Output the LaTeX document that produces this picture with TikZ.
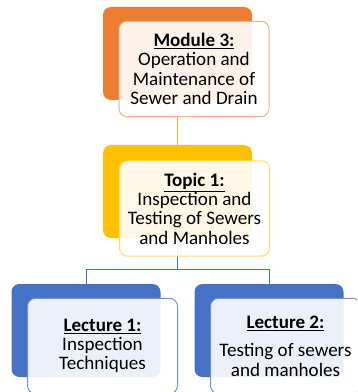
\documentclass[tikz,border=0pt]{standalone}
\usepackage{fontspec}
\setmainfont{Carlito}
\usepackage{tikz}

\definecolor{modback}{HTML}{ED7D31}
\definecolor{modline}{HTML}{F4B183}
\definecolor{topback}{HTML}{FFC000}
\definecolor{topline}{HTML}{FFD966}
\definecolor{lecback}{HTML}{4472C4}
\definecolor{lecline}{HTML}{6F93D3}
\definecolor{linkgold}{HTML}{F2AE2E}

\begin{document}
\begin{tikzpicture}[x=0.75pt, y=-0.75pt,
		backbox/.style={shape=rectangle, rounded corners=6pt, minimum width=111.75pt, minimum height=69.75pt, inner sep=0pt},
		frontbox/.style={shape=rectangle, rounded corners=6pt, line width=0.75pt, fill=white, fill opacity=0.9, text opacity=1, minimum width=112.5pt, minimum height=71.5pt, inner sep=0pt, align=center, font=\fontsize{14.3}{14.5}\selectfont}]
			\useasboundingbox (0,0) rectangle (357,392);
			\clip (0,0) rectangle (357,392);
			
			\node[backbox, fill=modback] (mod) at (177.5,53.5) {};
			\node[backbox, fill=topback] (top) at (177.5,191.5) {};
			\node[backbox, fill=lecback] (lec1) at (86,330.5) {};
			\node[backbox, fill=lecback] (lec2) at (269,330.5) {};
			\coordinate (split) at (177.5,269);
			
			\draw[linkgold, line width=0.75pt] (mod) -- (top);
			\draw[lecback, line width=0.75pt] (top.south) -- (split) -| (lec1.north);
			\draw[lecback, line width=0.75pt] (split) -| (lec2.north);
			
			\node[frontbox, draw=modline] (modf) at (194,69) {\underline{\textbf{Module 3:}}\\Operation and\\Maintenance of\\Sewer and Drain};
			\node[frontbox, draw=topline] (topf) at (194.5,208.5) {\underline{\textbf{Topic 1:}}\\Inspection and\\Testing of Sewers\\and Manholes};
			\node[frontbox, draw=lecline] (lec1f) at (102.5,346) {\underline{\textbf{Lecture 1:}}\\Inspection\\Techniques};
			\node[frontbox, draw=lecline] (lec2f) at (285.5,346) {\underline{\textbf{Lecture 2:}}\\[7pt]Testing of sewers\\and manholes};
		\end{tikzpicture}
\end{document}
